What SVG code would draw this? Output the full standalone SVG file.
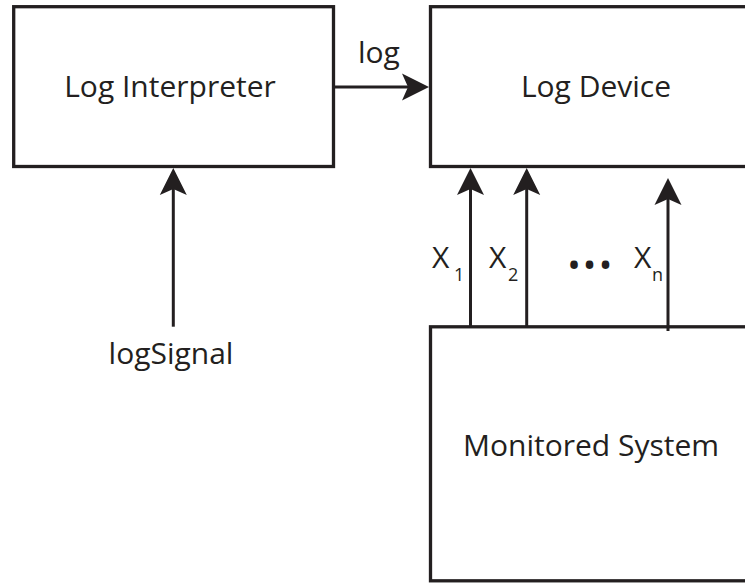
<svg xmlns="http://www.w3.org/2000/svg" width="745" height="583" viewBox="0 0 745 583">
<style>
.box{fill:#fff;stroke:#231f20;stroke-width:3.3}
.lbl{font-family:"Open Sans","Liberation Sans",sans-serif;font-size:30px;fill:#231f20}
.mid{text-anchor:middle}
.sub{font-family:"Open Sans","Liberation Sans",sans-serif;font-size:18px;fill:#231f20}
.dots{font-family:"Open Sans","Liberation Sans",sans-serif;font-size:36px;fill:#231f20;text-anchor:middle}
.conn{stroke:#231f20;stroke-width:3;fill:none;marker-end:url(#arr)}
</style>
<defs>
<marker id="arr" markerUnits="userSpaceOnUse" markerWidth="30" markerHeight="30" refX="6" refY="14" orient="auto" overflow="visible">
<path d="M27,14 L0,0.5 L6,14 L0,27.5 Z" fill="#231f20"/>
</marker>
</defs>
<rect width="745" height="583" fill="#fff"/>
<g id="log-interpreter">
<rect class="box" x="13.7" y="6.7" width="319.8" height="159.8"/>
<text class="lbl mid" x="170" y="97">Log Interpreter</text>
</g>
<g id="log-device">
<rect class="box" x="430.5" y="6.7" width="340" height="159.8"/>
<text class="lbl mid" x="596" y="97">Log Device</text>
</g>
<g id="monitored-system">
<rect class="box" x="430.5" y="326.8" width="340" height="254"/>
<text class="lbl mid" x="591" y="456">Monitored System</text>
</g>
<g id="connectors">
<line class="conn" x1="333.5" y1="87" x2="408" y2="87"/>
<text class="lbl" x="358" y="63">log</text>
<line class="conn" x1="173.3" y1="326.7" x2="173.3" y2="189"/>
<text class="lbl mid" x="171" y="364">logSignal</text>
<line class="conn" x1="470.5" y1="326.8" x2="470.5" y2="189"/>
<line class="conn" x1="526.7" y1="326.8" x2="526.7" y2="189"/>
<line class="conn" x1="668" y1="331" x2="668" y2="199"/>
<text class="lbl" x="432" y="268">X</text>
<text class="sub" x="454" y="281">1</text>
<text class="lbl" x="489" y="268">X</text>
<text class="sub" x="508" y="281">2</text>
<text class="lbl" x="634" y="268">X</text>
<text class="sub" x="652" y="281">n</text>
<text class="dots" x="574 589.5 605.5" y="278">•••</text>
</g>
</svg>
